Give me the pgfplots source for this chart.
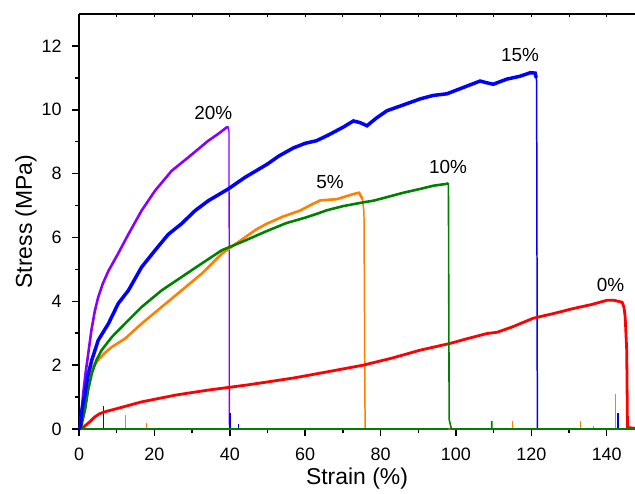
\documentclass[border=0pt]{standalone}
\usepackage{pgfplots}
\pgfplotsset{compat=1.18}
\usepackage{fontspec}
\setmainfont{Liberation Sans}
\definecolor{cred}{RGB}{255,0,0}
\definecolor{corange}{RGB}{255,128,0}
\definecolor{cgreen}{RGB}{0,128,0}
\definecolor{cblue}{RGB}{0,0,255}
\definecolor{cpurple}{RGB}{138,0,255}
\begin{document}
\begin{tikzpicture}
\begin{axis}[
  scale only axis, width=556bp, height=415bp,
  xmin=0, xmax=147.5, ymin=0, ymax=13,
  axis lines=left, axis line style={-, line width=1.6pt},
  xtick={0,20,...,140}, minor xtick={10,30,...,130},
  ytick={0,2,...,12}, minor ytick={1,3,...,11},
  tick align=outside, major tick length=7bp, minor tick length=4bp,
  major tick style={black, line width=1.5pt},
  minor tick style={black, line width=1.5pt},
  tick label style={font=\fontsize{18}{20}\selectfont},
  xticklabel style={yshift=-8bp},
  yticklabel style={xshift=-7bp},
  /pgf/number format/assume math mode=true,
  xlabel={Strain (\%)}, ylabel={Stress (MPa)},
  label style={font=\fontsize{23}{26}\selectfont},
  xlabel style={yshift=-1bp}, ylabel style={yshift=-2bp},
  unbounded coords=jump, clip=false,
]
% thin drops and baselines
\addplot[cpurple, line width=1.3pt] coordinates {(39.6,9.45)(39.8,9.3)(39.9,0)(147.5,0)};
\addplot[corange, line width=1.5pt] coordinates {(75.2,7.2)(75.6,6.8)(75.9,0)(147.5,0)};
\addplot[cblue, line width=1.5pt] coordinates {(121.1,11.1)(121.4,10.9)(121.6,0)(147.5,0)};
% spikes
\addplot[cpurple, line width=1.3pt] coordinates {(6.5,0)(6.5,0.5) (nan,nan) (143.2,0)(143.2,0.2)};
\addplot[corange, line width=1.3pt] coordinates {(12.3,0)(12.3,0.45) (nan,nan) (18,0)(18,0.2) (nan,nan) (115,0)(115,0.25) (nan,nan) (133,0)(133,0.25) (nan,nan) (142.4,0)(142.4,1.1) (nan,nan) (136.5,0)(136.5,0.1)};
\addplot[cblue, line width=1.6pt] coordinates {(6.5,0)(6.5,0.72) (nan,nan) (40.1,0)(40.1,0.5) (nan,nan) (42.3,0)(42.3,0.15) (nan,nan) (121.6,0)(121.6,1.9) (nan,nan) (143,0)(143,0.5)};
% red 0%
\addplot[cred, line width=2.8pt] coordinates {(0.8,0)(1.6,0.1)(2.8,0.22)(4.2,0.38)(5.5,0.48)(6.9,0.54)(10.4,0.65)(16.6,0.85)(25.5,1.06)(34.3,1.22)(44,1.37)(49.8,1.47)(57,1.6)(64,1.75)(75.4,2.0)(83,2.22)(90.5,2.47)(98.4,2.68)(103,2.83)(108.2,2.99)(110.9,3.03)(115,3.2)(120.5,3.47)(126,3.62)(131,3.77)(136,3.9)(140,4.03)(142,4.03)(144.1,3.97)(144.6,3.8)(144.9,3.5)(145.3,2.47)(145.5,0.05)(147.5,0.02)};
% orange 5%
\addplot[corange, line width=2.6pt] coordinates {(0.4,0)(1,0.6)(1.7,1.2)(2.5,1.63)(3.7,1.95)(5.1,2.16)(6.8,2.38)(8.7,2.57)(12.2,2.83)(16.6,3.3)(21.9,3.82)(27.2,4.34)(32.5,4.86)(37.9,5.49)(41,5.75)(44,6.0)(47,6.25)(49.8,6.43)(54,6.65)(58.6,6.84)(62,7.05)(64,7.16)(68.4,7.2)(72.8,7.36)(74.3,7.4)(75.2,7.2)};
% green 10%
\addplot[cgreen, line width=2.6pt] coordinates {(0.5,0)(1.0,0.3)(1.6,0.6)(2.4,1.2)(3.4,1.74)(4.6,2.15)(6,2.47)(8.7,2.88)(12.2,3.3)(16.6,3.82)(21.9,4.34)(27.2,4.76)(32.5,5.18)(37.9,5.6)(44,5.9)(49.8,6.2)(55,6.45)(60,6.62)(63.1,6.74)(65.7,6.85)(70,6.98)(75.4,7.1)(78,7.15)(81.6,7.26)(86,7.4)(90.5,7.52)(94,7.62)(97.6,7.68)(98,7.7)};
% purple 20%
\addplot[cpurple, line width=2.6pt] coordinates {(0.2,0)(0.7,0.6)(1.2,1.2)(1.8,1.8)(2.5,2.4)(3.3,3.1)(4.2,3.7)(5.1,4.13)(6.3,4.55)(7.8,4.95)(10.4,5.5)(13.1,6.1)(16.6,6.84)(20.2,7.47)(24.6,8.09)(29,8.51)(34.3,9.03)(37,9.25)(39.2,9.45)(39.7,9.45)};
% blue 15%
\addplot[cblue, line width=3.5pt] coordinates {(0.3,0)(0.8,0.6)(1.6,1.12)(2.4,1.7)(3.4,2.16)(5.1,2.78)(7.8,3.3)(10.4,3.93)(13.1,4.34)(16.6,5.07)(20.2,5.6)(23.7,6.1)(27.2,6.43)(30.8,6.84)(34.3,7.15)(39.6,7.52)(44,7.88)(50,8.3)(53,8.55)(56.8,8.8)(60,8.95)(63,9.03)(66,9.2)(70,9.45)(72.8,9.65)(74.5,9.6)(76.4,9.5)(79,9.75)(81.7,9.97)(86,10.15)(90.5,10.34)(94,10.45)(97.6,10.5)(102,10.7)(106.4,10.9)(108,10.85)(109.9,10.8)(113.5,10.96)(117,11.05)(119.7,11.16)(121,11.15)(121.3,11.0)};
% green drop and baseline on top
\addplot[cgreen, line width=1.6pt] coordinates {(98,7.7)(98.2,0.3)(98.8,0)(147.5,0) (nan,nan) (0.5,0)(98,0) (nan,nan) (109.5,0)(109.5,0.25)};
% annotations
\node[font=\fontsize{19}{21}\selectfont] at (axis cs:35.6,9.9) {20\%};
\node[font=\fontsize{19}{21}\selectfont] at (axis cs:117,11.7) {15\%};
\node[font=\fontsize{19}{21}\selectfont] at (axis cs:97.9,8.2) {10\%};
\node[font=\fontsize{19}{21}\selectfont] at (axis cs:66.6,7.75) {5\%};
\node[font=\fontsize{19}{21}\selectfont] at (axis cs:141,4.5) {0\%};
\end{axis}
\begin{axis}[
  scale only axis, width=556bp, height=415bp,
  xmin=0, xmax=147.5, ymin=0, ymax=13,
  axis x line*=top, axis y line=none, axis line style={-, line width=1.6pt},
  xtick={10,20,...,140}, xticklabels={}, tick align=inside,
  major tick length=3bp, major tick style={black, line width=0.8pt},
]
\end{axis}
\pgfresetboundingbox
\path (current axis.south west)++(-79bp,-65bp) coordinate (bbl);
\path (current axis.north east)++(0,14bp) coordinate (btr);
\useasboundingbox (bbl) rectangle (btr);
\end{tikzpicture}
\end{document}
